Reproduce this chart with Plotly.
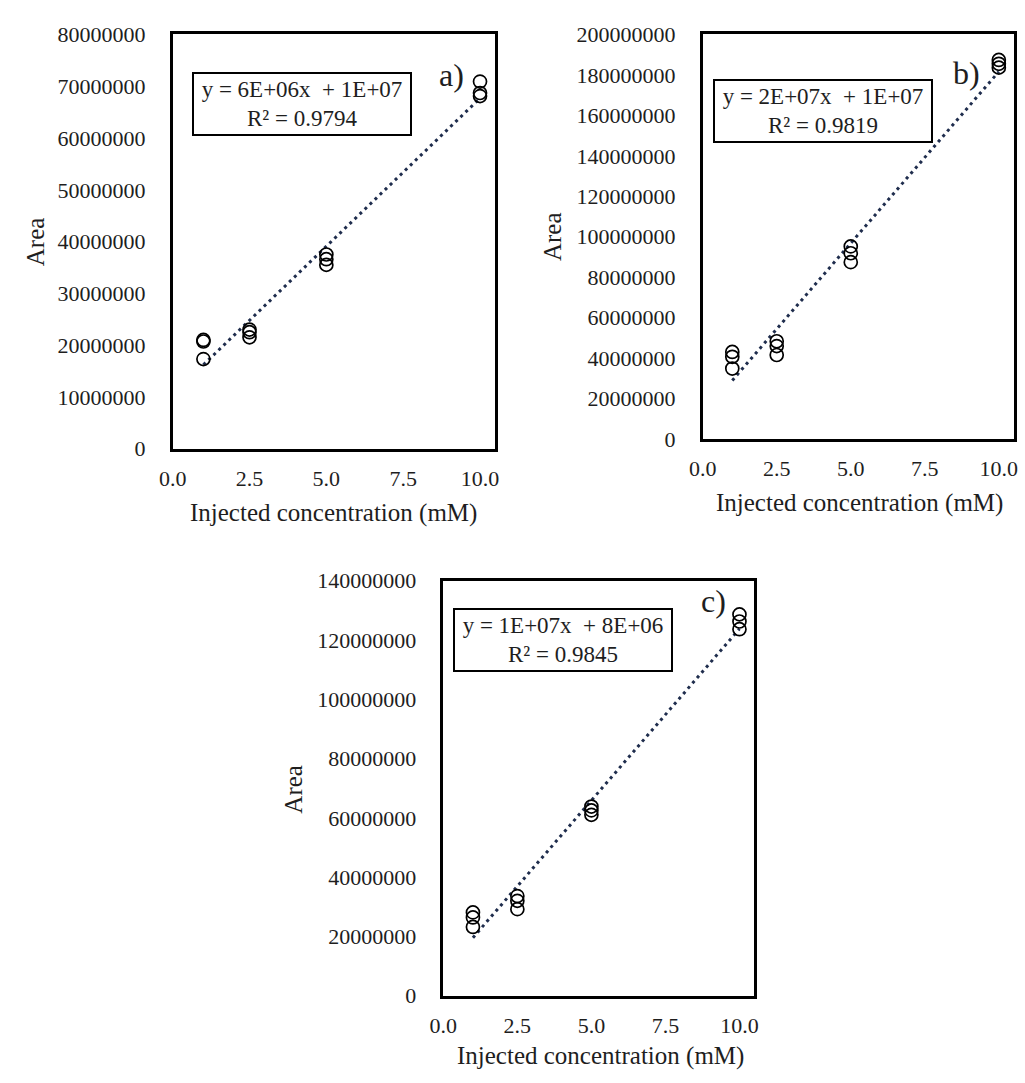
import numpy as np
import plotly.graph_objects as go

# ---------------- data ----------------
conc_a = [1, 1, 1, 2.5, 2.5, 2.5, 5, 5, 5, 10, 10, 10]
area_a = [21.0e6, 20.7e6, 17.3e6, 23.0e6, 22.5e6, 21.5e6,
          37.5e6, 36.6e6, 35.5e6, 70.9e6, 68.7e6, 68.1e6]

conc_b = [1, 1, 1, 2.5, 2.5, 2.5, 5, 5, 5, 10, 10, 10]
area_b = [43.0e6, 40.6e6, 34.8e6, 48.3e6, 45.9e6, 41.5e6,
          95.2e6, 91.8e6, 87.4e6, 187.4e6, 185.5e6, 183.6e6]

conc_c = [1, 1, 1, 2.5, 2.5, 2.5, 5, 5, 5, 10, 10, 10]
area_c = [28.1e6, 26.4e6, 23.2e6, 33.6e6, 32.0e6, 29.2e6,
          63.8e6, 62.5e6, 61.0e6, 128.6e6, 126.2e6, 123.6e6]

equations = ["y = 6E+06x  + 1E+07<br>R² = 0.9794",
             "y = 2E+07x  + 1E+07<br>R² = 0.9819",
             "y = 1E+07x  + 8E+06<br>R² = 0.9845"]
panel_labels = ["a)", "b)", "c)"]
x_ticks = [0.0, 2.5, 5.0, 7.5, 10.0]
x_max = 10.5
y_max = [80e6, 200e6, 140e6]
y_step = [10e6, 20e6, 20e6]
x_title = "Injected concentration (mM)"
y_title = "Area"

# ---------------- layout geometry ----------------
W, H = 1025, 1083
FONT = "Liberation Serif, Times New Roman, serif"
TXT = "#1e1e1e"


def px(x):
    return x / W


def py(y):
    return 1 - y / H


# plot boxes in pixels: (left, right, top, bottom)
boxes = [(161.5, 490, 23, 447), (701, 1017.5, 23, 437), (437, 753.5, 582, 1007)]

fig = go.Figure()

datasets = [(conc_a, area_a), (conc_b, area_b), (conc_c, area_c)]
for i, (cx, cy) in enumerate(datasets):
    xa = "x" if i == 0 else f"x{i+1}"
    ya = "y" if i == 0 else f"y{i+1}"
    slope, intercept = np.polyfit(cx, cy, 1)
    xs = np.array([min(cx), max(cx)])
    fig.add_trace(go.Scatter(
        x=xs, y=slope * xs + intercept, mode="lines", xaxis=xa, yaxis=ya,
        line=dict(color="#1f2d4d", width=3, dash="3px,4px"),
        showlegend=False, hoverinfo="skip"))
    fig.add_trace(go.Scatter(
        x=cx, y=cy, mode="markers", xaxis=xa, yaxis=ya,
        marker=dict(symbol="circle-open", size=13, color="black",
                    line=dict(width=1.7, color="black")),
        showlegend=False, hoverinfo="x+y"))

layout = dict(
    width=W, height=H,
    margin=dict(l=0, r=0, t=0, b=0),
    paper_bgcolor="white", plot_bgcolor="white",
    font=dict(family=FONT, color=TXT, size=23),
)

annotations = []
for i, (l, r, t, b) in enumerate(boxes):
    suf = "" if i == 0 else str(i + 1)
    layout[f"xaxis{suf}"] = dict(
        domain=[px(l), px(r)], range=[0, x_max], anchor=f"y{suf}",
        tickvals=x_ticks, tickformat=".1f", showgrid=False, zeroline=False,
        showline=True, mirror=True, linecolor="black", linewidth=2.5,
        ticks="", ticklabelstandoff=8,
        tickfont=dict(family=FONT, size=22, color=TXT))
    layout[f"yaxis{suf}"] = dict(
        domain=[py(b), py(t)], range=[0, y_max[i]], anchor=f"x{suf}",
        dtick=y_step[i], tick0=0, tickformat="d", showgrid=False, zeroline=False,
        showline=True, mirror=True, linecolor="black", linewidth=2.5,
        ticks="", ticklabelstandoff=20,
        tickfont=dict(family=FONT, size=22, color=TXT))

# equation boxes (centre pixel positions)
eq_pos = [(292.7, 94), (823, 101.5), (559, 643)]
for i, (x, y) in enumerate(eq_pos):
    annotations.append(dict(
        text=equations[i], x=px(x), y=py(y), xref="paper", yref="paper",
        showarrow=False, xanchor="center", yanchor="middle", align="center",
        width=216, height=60, bordercolor="black", borderwidth=2, borderpad=0,
        bgcolor="white", font=dict(family=FONT, size=23, color=TXT)))

lab_pos = [(445, 65), (970, 62), (712, 603)]
for i, (x, y) in enumerate(lab_pos):
    annotations.append(dict(
        text=panel_labels[i], x=px(x), y=py(y), xref="paper", yref="paper",
        showarrow=False, xanchor="center", yanchor="middle",
        font=dict(family=FONT, size=32, color=TXT)))

xt_pos = [(325, 513), (861, 503), (597, 1069)]
for (x, y) in xt_pos:
    annotations.append(dict(
        text=x_title, x=px(x), y=py(y), xref="paper", yref="paper",
        showarrow=False, xanchor="center", yanchor="middle",
        font=dict(family=FONT, size=25, color=TXT)))

yt_pos = [(22, 235), (548, 230), (285, 795)]
for (x, y) in yt_pos:
    annotations.append(dict(
        text=y_title, x=px(x), y=py(y), xref="paper", yref="paper",
        showarrow=False, xanchor="center", yanchor="middle", textangle=-90,
        font=dict(family=FONT, size=25, color=TXT)))

layout["annotations"] = annotations
fig.update_layout(**layout)
fig.write_html(
    "out.html",
    config={"displayModeBar": False},
    post_script="document.body.style.margin='0';document.body.style.overflow='hidden';")
